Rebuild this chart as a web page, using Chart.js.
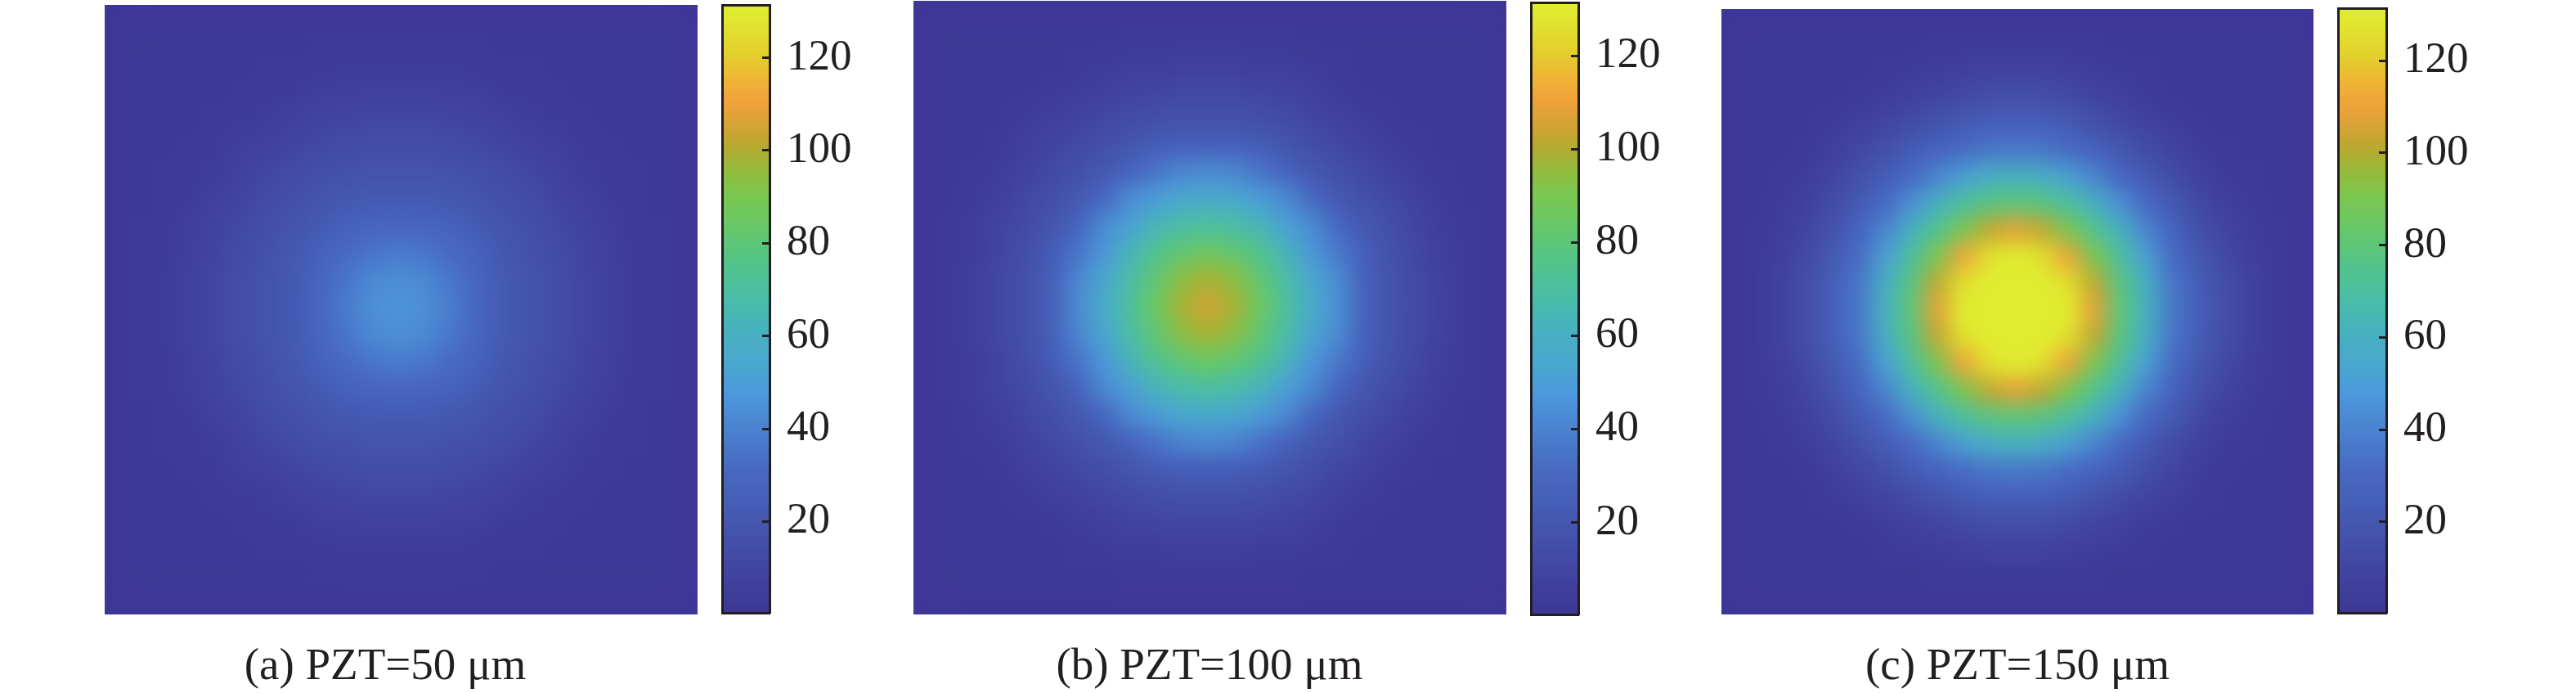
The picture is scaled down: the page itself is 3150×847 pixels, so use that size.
<!DOCTYPE html>
<html>
<head>
<meta charset="utf-8">
<title>PZT heat maps</title>
<script src="https://cdn.jsdelivr.net/npm/chart.js@4/dist/chart.umd.js"></script>
<style>
  html,body{margin:0;padding:0;background:#fff;}
  #page{position:relative;width:3150px;height:847px;overflow:hidden;}
  .heat{position:absolute;overflow:hidden;background:#3f3797;}
  .heat canvas{filter:blur(13px);}
  .bar{position:absolute;}
  .cap{position:absolute;top:780px;transform:translateX(-50%);white-space:nowrap;
       font:55px "Liberation Serif",serif;color:#231f20;}
</style>
</head>
<body>
<div id="page"></div>
<script>
/* values, 21 rows of 21 cells each */
var gridA=[
[1,1,1,1,1,1,1,2,2,2,2,2,2,2,1,1,1,1,1,1,1],
[1,1,1,1,1,2,2,2,3,3,3,3,3,2,2,2,1,1,1,1,1],
[1,1,1,1,2,3,3,5,5,6,6,6,5,5,3,3,2,1,1,1,1],
[1,1,1,2,3,4,6,8,9,10,10,10,9,8,6,4,3,2,1,1,1],
[1,1,2,3,5,7,9,11,13,14,14,14,13,11,9,7,5,3,2,1,1],
[1,2,3,4,7,10,13,15,16,17,17,17,16,15,13,10,7,4,3,2,1],
[1,2,3,6,9,13,15,17,20,21,21,21,20,17,15,13,9,6,3,2,1],
[2,2,5,8,11,15,17,22,26,28,29,28,26,22,17,15,11,8,5,2,2],
[2,3,5,9,13,16,20,26,31,35,37,35,31,26,20,16,13,9,5,3,2],
[2,3,6,10,14,17,21,28,35,42,44,42,35,28,21,17,14,10,6,3,2],
[2,3,6,10,14,17,21,29,37,44,46,44,37,29,21,17,14,10,6,3,2],
[2,3,6,10,14,17,21,28,35,42,44,42,35,28,21,17,14,10,6,3,2],
[2,3,5,9,13,16,20,26,31,35,37,35,31,26,20,16,13,9,5,3,2],
[2,2,5,8,11,15,17,22,26,28,29,28,26,22,17,15,11,8,5,2,2],
[1,2,3,6,9,13,15,17,20,21,21,21,20,17,15,13,9,6,3,2,1],
[1,2,3,4,7,10,13,15,16,17,17,17,16,15,13,10,7,4,3,2,1],
[1,1,2,3,5,7,9,11,13,14,14,14,13,11,9,7,5,3,2,1,1],
[1,1,1,2,3,4,6,8,9,10,10,10,9,8,6,4,3,2,1,1,1],
[1,1,1,1,2,3,3,5,5,6,6,6,5,5,3,3,2,1,1,1,1],
[1,1,1,1,1,2,2,2,3,3,3,3,3,2,2,2,1,1,1,1,1],
[1,1,1,1,1,1,1,2,2,2,2,2,2,2,1,1,1,1,1,1,1]];
var gridB=[
[1,1,1,1,1,1,1,2,2,2,2,2,2,2,1,1,1,1,1,1,1],
[1,1,1,1,1,2,3,4,4,5,5,5,4,4,3,2,1,1,1,1,1],
[1,1,1,1,2,4,5,8,9,10,10,10,9,8,5,3,1,1,1,1,1],
[1,1,1,3,5,7,10,12,14,15,15,15,14,12,9,6,4,2,1,1,1],
[1,1,2,5,8,11,14,18,22,24,24,24,22,18,13,10,7,4,2,1,1],
[1,2,4,7,11,15,20,26,34,40,42,40,34,26,20,15,11,7,4,2,1],
[1,3,5,10,14,20,28,42,48,54,55,54,48,42,28,20,15,11,6,3,1],
[2,4,8,12,18,26,42,50,62,68,70,68,62,50,42,28,20,14,9,4,2],
[2,4,9,14,22,34,46,62,74,81,85,81,74,62,46,36,24,16,10,5,2],
[2,5,10,15,24,40,53,68,81,94,98,94,81,68,53,42,25,17,11,6,2],
[2,5,10,15,24,42,55,70,85,98,105,98,85,70,55,44,25,17,12,6,2],
[2,5,10,15,24,40,53,68,81,94,98,94,81,68,53,42,25,17,11,6,2],
[2,4,9,14,22,34,46,62,74,81,85,81,74,62,46,36,24,16,10,5,2],
[2,4,8,12,18,26,42,50,62,68,70,68,62,50,42,28,19,13,9,4,2],
[1,3,5,10,14,20,28,42,48,54,55,54,48,42,28,20,14,10,5,3,1],
[1,2,4,7,11,15,20,26,34,40,42,40,34,26,20,15,10,6,3,2,1],
[1,1,2,5,8,11,14,18,22,24,24,24,22,18,14,10,7,4,2,1,1],
[1,1,1,3,5,7,10,12,14,15,15,15,14,12,10,6,4,2,1,1,1],
[1,1,1,1,2,4,5,8,9,10,10,10,9,8,5,3,2,1,1,1,1],
[1,1,1,1,1,2,3,4,4,5,5,5,4,4,3,2,1,1,1,1,1],
[1,1,1,1,1,1,1,2,2,2,2,2,2,2,1,1,1,1,1,1,1]];
var gridC=[
[1,1,1,1,1,1,1,2,2,2,2,2,2,2,1,1,1,1,1,1,1],
[1,1,1,1,1,2,3,4,5,7,7,7,5,4,3,2,1,1,1,1,1],
[1,1,1,1,2,4,6,9,12,14,14,14,12,8,5,3,1,1,1,1,1],
[1,1,1,3,5,9,13,17,21,24,24,24,21,16,11,7,4,2,1,1,1],
[1,1,2,5,10,15,22,27,31,35,36,35,31,26,20,13,8,4,2,1,1],
[1,2,4,9,15,23,30,40,50,58,60,58,50,40,29,21,13,7,3,2,1],
[1,3,6,13,22,30,44,60,70,77,80,77,70,60,44,30,21,11,5,3,1],
[2,4,9,17,27,40,60,74,90,102,108,102,90,74,60,40,27,16,9,4,2],
[2,5,12,21,31,50,70,90,110,126,131,126,110,90,70,50,31,20,12,5,2],
[2,7,14,24,35,58,77,102,126,131,131,131,126,102,77,58,35,23,14,7,2],
[2,7,14,24,36,60,80,108,131,131,131,131,131,108,80,60,36,24,14,7,2],
[2,7,14,24,35,58,77,102,126,131,131,131,126,102,77,58,35,23,14,7,2],
[2,5,12,21,31,50,70,90,110,126,131,126,110,90,70,50,31,20,12,5,2],
[2,4,9,17,27,40,60,74,90,102,108,102,90,74,60,40,27,16,9,4,2],
[1,3,6,13,22,30,44,60,70,77,80,77,70,60,44,30,21,11,5,3,1],
[1,2,4,9,15,23,30,40,50,58,60,58,50,40,30,21,13,7,3,2,1],
[1,1,2,5,10,15,22,27,31,35,36,35,31,27,22,14,9,4,2,1,1],
[1,1,1,3,5,9,13,17,21,24,24,24,21,17,13,8,5,3,1,1,1],
[1,1,1,1,2,4,6,9,12,14,14,14,12,9,6,3,2,1,1,1,1],
[1,1,1,1,1,2,3,4,5,7,7,7,5,4,3,2,1,1,1,1,1],
[1,1,1,1,1,1,1,2,2,2,2,2,2,2,1,1,1,1,1,1,1]];

var tickValues=[20,40,60,80,100,120];
var cbarMin=0.3, cbarMax=131.4;
var cmapValues=[0,10,20,30,40,47,53,60,67,73,80,85,91,96,100,104,110,115,120,130,132];
var cmapColors=['#3e3795','#4147a2','#4558b0','#4768bf','#4b84d0','#4c98dc','#4aa6d0','#47b0c0','#49bcab','#4fc293','#5ec676','#6cc860','#7fc64c','#98b93a','#b5aa30','#cfa335','#f0a23a','#f0b435','#e3cf2d','#e0ec30','#e0ee30'];
var captions=['(a) PZT=50 μm','(b) PZT=100 μm','(c) PZT=150 μm'];

var panels=[
  {grid:gridA,x:128,y:6,w:725,h:745,bx:882.5,by:5.5,bw:58,bh:743,cap:471},
  {grid:gridB,x:1117,y:1,w:725,h:750,bx:1871.5,by:2.5,bw:58,bh:748,cap:1479},
  {grid:gridC,x:2105,y:11,w:724,h:740,bx:2858.5,by:9.5,bw:59,bh:739,cap:2467}
];
var ink='#231f20';
var page=document.getElementById('page');

function hex(c){return [parseInt(c.substr(1,2),16),parseInt(c.substr(3,2),16),parseInt(c.substr(5,2),16)];}
function colorOf(v){
  var i=0; while(i<cmapValues.length-2&&v>cmapValues[i+1])i++;
  var t=Math.max(0,Math.min(1,(v-cmapValues[i])/(cmapValues[i+1]-cmapValues[i])));
  var a=hex(cmapColors[i]),b=hex(cmapColors[i+1]);
  return 'rgb('+Math.round(a[0]+(b[0]-a[0])*t)+','+Math.round(a[1]+(b[1]-a[1])*t)+','+Math.round(a[2]+(b[2]-a[2])*t)+')';
}
function addCanvas(cls,l,t,w,h){
  var d=document.createElement('div');d.className=cls;
  d.style.left=l+'px';d.style.top=t+'px';d.style.width=w+'px';d.style.height=h+'px';
  var c=document.createElement('canvas');c.width=w;c.height=h;c.style.display='block';
  d.appendChild(c);page.appendChild(d);
  return c;
}

/* map itself: one square point per grid cell */
function drawHeat(p){
  var pts=[],cols=[];
  p.grid.forEach(function(row,r){row.forEach(function(v,c){pts.push({x:c,y:r});cols.push(colorOf(v));});});
  var side=Math.max(p.w,p.h)/p.grid.length+2;
  new Chart(addCanvas('heat',p.x,p.y,p.w,p.h),{
    type:'scatter',
    data:{datasets:[{data:pts,pointStyle:'rect',pointRadius:side*Math.SQRT1_2,pointBackgroundColor:cols,pointBorderWidth:0}]},
    options:{
      responsive:false,animation:false,devicePixelRatio:1,events:[],
      layout:{padding:0},
      plugins:{legend:{display:false},tooltip:{enabled:false}},
      scales:{
        x:{type:'linear',min:-0.5,max:20.5,display:false},
        y:{type:'linear',min:-0.5,max:20.5,reverse:true,display:false}
      }
    }
  });
}

/* colour bar: floating bars on a linear axis, ticks point inward */
function drawBar(p){
  var pad=10,sets=[];
  for(var v=0;v<132;v++){
    sets.push({xAxisID:'x',yAxisID:'y',data:[[v,v+1.4]],backgroundColor:colorOf(v+0.5),borderWidth:0,barPercentage:1,categoryPercentage:1,grouped:false});
  }
  var frame={display:true,color:ink,width:3,z:1};
  function fix(w,h){return function(s){
    if(w!==null)s.width=w;
    if(h!==null)s.height=h;
    s.paddingTop=0;s.paddingBottom=0;s.paddingLeft=0;s.paddingRight=0;
  };}
  new Chart(addCanvas('bar',p.bx-pad,p.by-pad,p.bw+pad+130,p.bh+pad*2),{
    type:'bar',
    data:{labels:[''],datasets:sets},
    options:{
      responsive:false,animation:false,devicePixelRatio:1,events:[],
      layout:{padding:{left:pad,top:pad,bottom:pad,right:0}},
      plugins:{legend:{display:false},tooltip:{enabled:false}},
      scales:{
        x:{position:'bottom',border:frame,grid:{display:false},ticks:{display:false},afterFit:fix(null,0)},
        xTop:{type:'linear',position:'top',min:0,max:1,border:frame,grid:{display:false},ticks:{display:false},afterFit:fix(null,0)},
        yLeft:{type:'linear',position:'left',min:0,max:1,border:frame,grid:{display:false},ticks:{display:false},afterFit:fix(0,null)},
        y:{
          type:'linear',position:'right',min:cbarMin,max:cbarMax,
          border:frame,
          grid:{drawOnChartArea:false,drawTicks:true,tickLength:-9,tickWidth:3,tickColor:ink,z:1},
          afterBuildTicks:function(s){s.ticks=tickValues.map(function(t){return {value:t};});},
          ticks:{autoSkip:false,padding:30,color:ink,font:{family:'"Liberation Serif"',size:53}},
          afterFit:fix(130,null)
        }
      }
    }
  });
}

panels.forEach(function(p,i){
  drawHeat(p);
  drawBar(p);
  var cap=document.createElement('div');cap.className='cap';cap.style.left=p.cap+'px';cap.textContent=captions[i];
  page.appendChild(cap);
});
</script>
</body>
</html>
